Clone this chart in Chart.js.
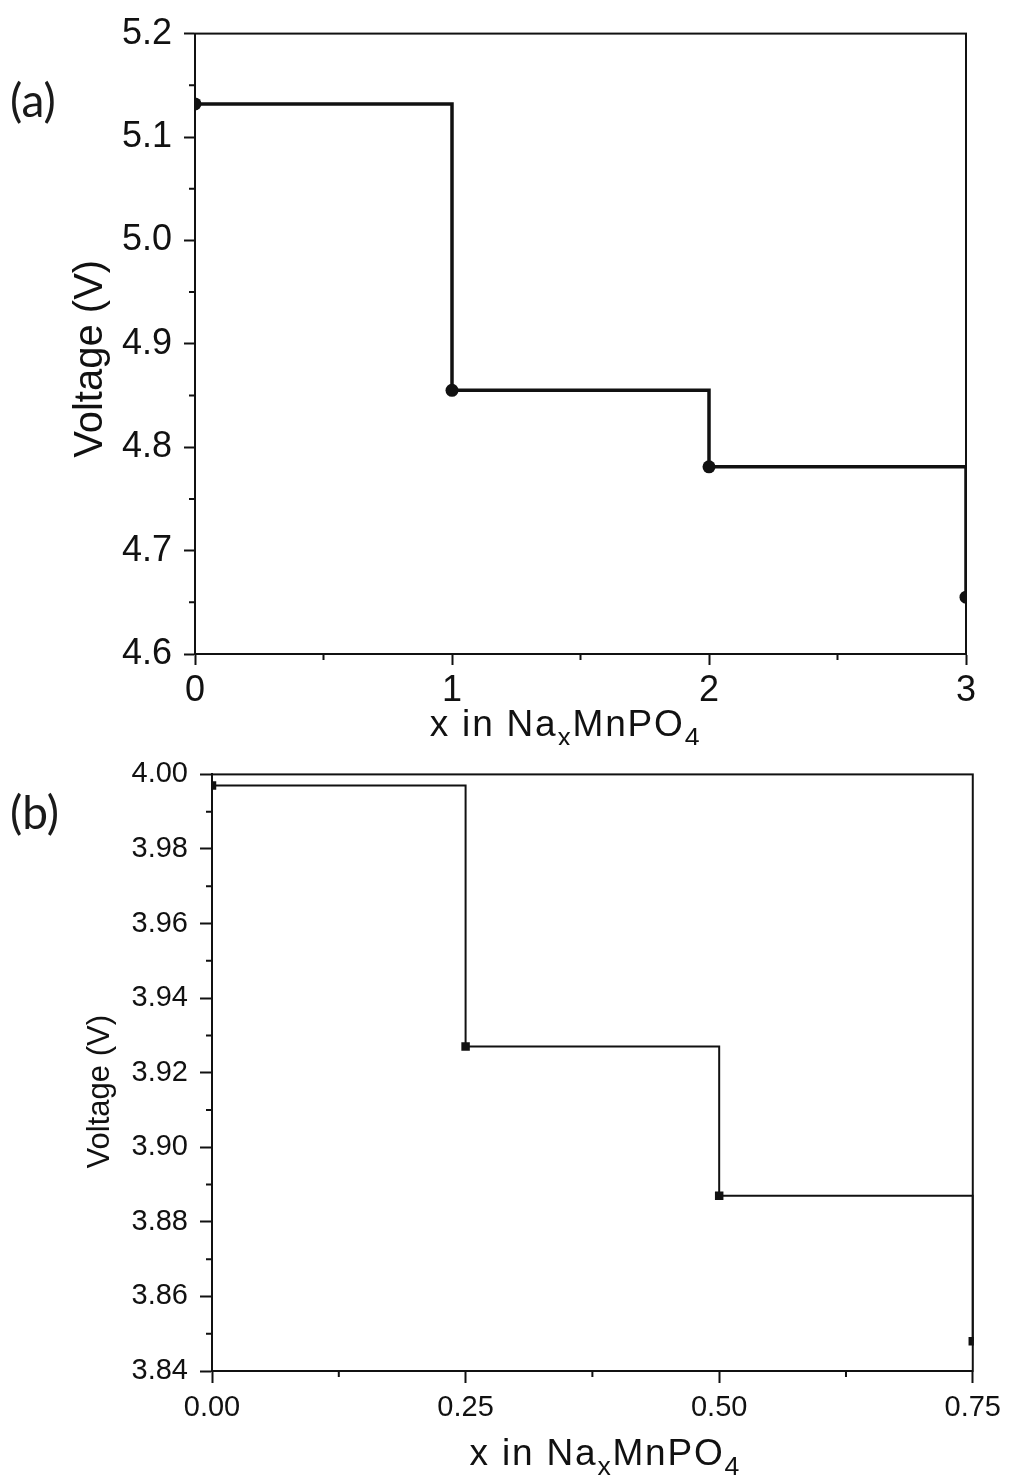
<!DOCTYPE html>
<html>
<head>
<meta charset="utf-8">
<script src="https://cdn.jsdelivr.net/npm/chart.js@4.4.1/dist/chart.umd.min.js"></script>
<style>
  body { margin: 0; background: #fff; }
  .panel { position: absolute; left: 0; width: 1009px; }
  .tag { position: absolute; font-family: Lato, "Open Sans", sans-serif; font-size: 46px; color: #1a1a1a; line-height: 1; }
</style>
</head>
<body>
<div class="panel" style="top:0;height:745px"><canvas id="chartA" width="1009" height="745"></canvas></div>
<div class="panel" style="top:745px;height:734px"><canvas id="chartB" width="1009" height="734"></canvas></div>
<div class="tag" style="left:10px;top:77px">(a)</div>
<div class="tag" style="left:10px;top:789px">(b)</div>
<script>
// ---- panel (a): x = 0..3 ----
const xA = [0, 1, 2, 3];
const voltA = [5.132, 4.855, 4.781, 4.655];
const xTicksA = [0, 1, 2, 3];
const yTicksA = [4.6, 4.7, 4.8, 4.9, 5.0, 5.1, 5.2];
const xMinorA = [0.5, 1.5, 2.5];
const yMinorA = [4.65, 4.75, 4.85, 4.95, 5.05, 5.15];

// ---- panel (b): x = 0..0.75 ----
const xB = [0, 0.25, 0.5, 0.75];
const voltB = [3.997, 3.927, 3.887, 3.848];
const xTicksB = [0, 0.25, 0.5, 0.75];
const yTicksB = [3.84, 3.86, 3.88, 3.90, 3.92, 3.94, 3.96, 3.98, 4.00];
const xMinorB = [0.125, 0.375, 0.625];
const yMinorB = [3.85, 3.87, 3.89, 3.91, 3.93, 3.95, 3.97, 3.99];

const FONT = '"Liberation Sans", Arial, sans-serif';
const INK = '#111';

// "x in Na_x MnPO_4" with real subscripts, centred on cx
function drawFormula(ctx, cx, baseline, size, spacing) {
  const parts = [['x in Na', false], ['x', true], ['MnPO', false], ['4', true]];
  const sub = size * 0.72;
  ctx.letterSpacing = spacing + 'px';
  let total = 0;
  const widths = parts.map(([t, s]) => {
    ctx.font = `${s ? sub : size}px ${FONT}`;
    const w = ctx.measureText(t).width;
    total += w;
    return w;
  });
  let x = cx - total / 2;
  ctx.textAlign = 'left';
  ctx.textBaseline = 'alphabetic';
  parts.forEach(([t, s], i) => {
    ctx.font = `${s ? sub : size}px ${FONT}`;
    ctx.fillText(t, x, baseline + (s ? size * 0.28 : 0));
    x += widths[i];
  });
  ctx.letterSpacing = '0px';
}

// box frame, minor ticks and both axis titles
function framePlugin(o) {
  return {
    id: 'frame',
    beforeDatasetsDraw(chart) {
      const { ctx, chartArea: a, scales: { x, y } } = chart;
      ctx.save();
      ctx.strokeStyle = INK;
      ctx.lineWidth = o.lineWidth;
      ctx.strokeRect(a.left, a.top, a.right - a.left, a.bottom - a.top);
      ctx.beginPath();
      o.minorX.forEach(v => {
        const px = x.getPixelForValue(v);
        ctx.moveTo(px, a.bottom);
        ctx.lineTo(px, a.bottom + o.minorLen);
      });
      o.minorY.forEach(v => {
        const py = y.getPixelForValue(v);
        ctx.moveTo(a.left, py);
        ctx.lineTo(a.left - o.minorLen, py);
      });
      ctx.stroke();
      ctx.fillStyle = INK;
      drawFormula(ctx, (a.left + a.right) / 2 + o.titleShift, a.bottom + o.titleDrop, 37, 1.8);

      ctx.translate(o.yTitleX, (a.top + a.bottom) / 2 + o.yTitleShift);
      ctx.rotate(-Math.PI / 2);
      ctx.font = `${o.yTitleSize}px ${FONT}`;
      ctx.textAlign = 'center';
      ctx.textBaseline = 'middle';
      ctx.fillText('Voltage (V)', 0, 0);
      ctx.restore();
    }
  };
}

function makeChart(id, cfg) {
  const data = cfg.xs.map((x, i) => ({ x, y: cfg.ys[i] }));
  const tickFont = { family: FONT, size: cfg.tickSize };
  return new Chart(document.getElementById(id), {
    type: 'line',
    data: {
      datasets: [{
        data,
        stepped: true,
        borderColor: INK,
        borderWidth: cfg.lineWidth,
        pointStyle: cfg.pointStyle,
        pointRadius: cfg.pointRadius,
        pointBackgroundColor: INK,
        pointBorderColor: INK,
        pointBorderWidth: 0,
        clip: 1,
        fill: false
      }]
    },
    options: {
      responsive: false,
      animation: false,
      events: [],
      layout: { padding: cfg.padding },
      plugins: { legend: { display: false }, tooltip: { enabled: false } },
      scales: {
        x: {
          type: 'linear',
          min: cfg.xTicks[0],
          max: cfg.xTicks[cfg.xTicks.length - 1],
          afterBuildTicks: s => { s.ticks = cfg.xTicks.map(value => ({ value })); },
          afterFit: s => { s.height = cfg.xAxisHeight; },
          ticks: {
            autoSkip: false, maxRotation: 0,
            font: tickFont, color: INK, padding: cfg.xTickPad,
            callback: v => v.toFixed(cfg.xDigits)
          },
          grid: { drawOnChartArea: false, tickLength: cfg.majorLen, tickWidth: cfg.axisWidth, tickColor: INK },
          border: { color: INK, width: cfg.axisWidth }
        },
        y: {
          type: 'linear',
          min: cfg.yTicks[0],
          max: cfg.yTicks[cfg.yTicks.length - 1],
          afterBuildTicks: s => { s.ticks = cfg.yTicks.map(value => ({ value })); },
          afterFit: s => { s.width = cfg.yAxisWidth; },
          ticks: {
            autoSkip: false,
            font: tickFont, color: INK, padding: 12,
            callback: v => v.toFixed(cfg.yDigits)
          },
          grid: { drawOnChartArea: false, tickLength: cfg.majorLen, tickWidth: cfg.axisWidth, tickColor: INK },
          border: { color: INK, width: cfg.axisWidth }
        }
      }
    },
    plugins: [framePlugin({
      lineWidth: cfg.axisWidth, minorLen: cfg.minorLen,
      minorX: cfg.xMinor, minorY: cfg.yMinor,
      titleShift: cfg.titleShift, titleDrop: cfg.titleDrop,
      yTitleSize: cfg.yTitleSize, yTitleX: cfg.yTitleX, yTitleShift: cfg.yTitleShift
    })]
  });
}

makeChart('chartA', {
  xs: xA, ys: voltA, xTicks: xTicksA, yTicks: yTicksA, xMinor: xMinorA, yMinor: yMinorA,
  xDigits: 0, yDigits: 1, tickSize: 36,
  padding: { top: 33, right: 43, left: 0, bottom: 0 },
  xAxisHeight: 91, yAxisWidth: 195, xTickPad: 4,
  majorLen: 11, minorLen: 6, axisWidth: 2,
  lineWidth: 3.5, pointStyle: 'circle', pointRadius: 6.5,
  yTitleSize: 40, yTitleX: 91, yTitleShift: 15, titleShift: -15, titleDrop: 82
});

makeChart('chartB', {
  xs: xB, ys: voltB, xTicks: xTicksB, yTicks: yTicksB, xMinor: xMinorB, yMinor: yMinorB,
  xDigits: 2, yDigits: 2, tickSize: 29,
  padding: { top: 18, right: 36, left: 0, bottom: 0 },
  xAxisHeight: 108, yAxisWidth: 212, xTickPad: 8,
  majorLen: 12, minorLen: 6, axisWidth: 2,
  lineWidth: 2, pointStyle: 'rect', pointRadius: 6,
  yTitleSize: 31, yTitleX: 100, yTitleShift: 19, titleShift: 13, titleDrop: 94
});
</script>
</body>
</html>
